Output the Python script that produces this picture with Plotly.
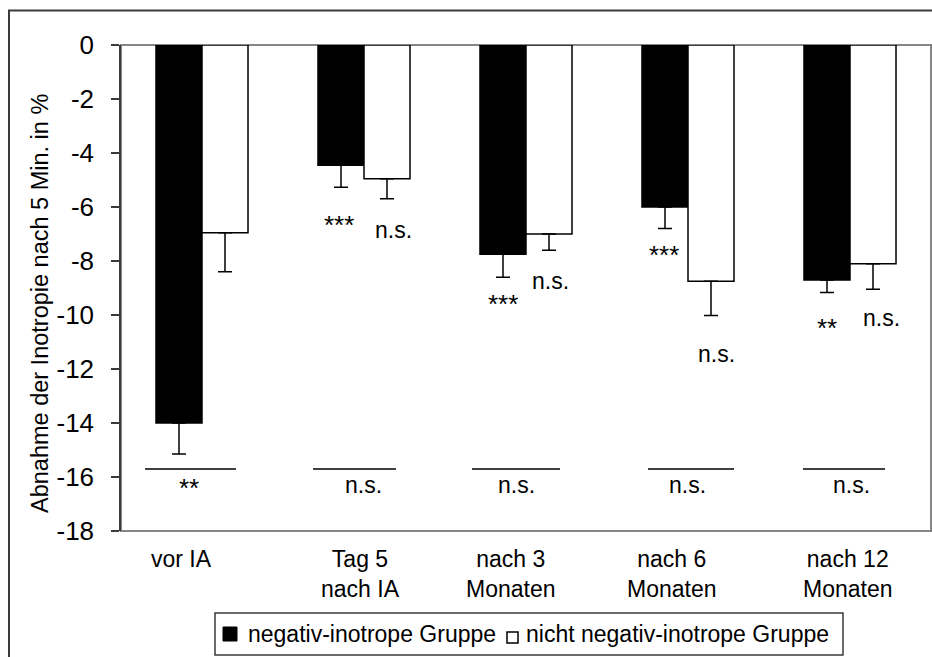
import plotly.graph_objects as go

# Zeitpunkte (Kategorien)
categories = ["vor IA", "Tag 5<br>nach IA", "nach 3<br>Monaten", "nach 6<br>Monaten", "nach 12<br>Monaten"]

# Mittelwerte und Standardfehler der Abnahme (%)
neg_mean = [-14.0, -4.45, -7.75, -6.0, -8.7]
neg_err = [1.15, 0.82, 0.85, 0.8, 0.47]
non_mean = [-6.95, -4.95, -7.0, -8.75, -8.1]
non_err = [1.45, 0.74, 0.6, 1.27, 0.95]

# Signifikanzangaben
sig_neg = ["", "***", "***", "***", "**"]
sig_non = ["", "n.s.", "n.s.", "n.s.", "n.s."]
sig_between = ["**", "n.s.", "n.s.", "n.s.", "n.s."]

y_ticks = [0, -2, -4, -6, -8, -10, -12, -14, -16, -18]

FONT = "Arial, Liberation Sans, sans-serif"
W, H = 932, 657
ML, MR, MT, MB = 121, 1, 45, 126
PW, PH = W - ML - MR, H - MT - MB


def px(xp):
    """Pixel-x -> paper-x"""
    return (xp - ML) / PW


def py(yp):
    """Pixel-y -> paper-y"""
    return (H - MB - yp) / PH


x = list(range(len(categories)))

fig = go.Figure()
fig.add_trace(go.Bar(
    x=x, y=neg_mean, name="negativ-inotrope Gruppe",
    marker=dict(color="black", line=dict(color="black", width=1.5)),
    error_y=dict(type="data", symmetric=False, array=[0] * len(x), arrayminus=neg_err,
                 color="black", thickness=1.5, width=7),
))
fig.add_trace(go.Bar(
    x=x, y=non_mean, name="nicht negativ-inotrope Gruppe",
    marker=dict(color="white", line=dict(color="black", width=1.5)),
    error_y=dict(type="data", symmetric=False, array=[0] * len(x), arrayminus=non_err,
                 color="black", thickness=1.5, width=7),
))

annotations = []
shapes = []

# Achsentitel
annotations.append(dict(
    text="Abnahme der Inotropie nach 5 Min. in %", xref="paper", yref="paper",
    x=0, y=py(304), xshift=-81, textangle=-90, showarrow=False,
    xanchor="center", yanchor="middle", font=dict(size=23.5, color="black", family=FONT),
))

# Kategorienbeschriftungen unter der Zeichenfläche
label_shift = [-21, -4, -15, -16, -2]
for i, lab in enumerate(categories):
    annotations.append(dict(
        text=lab, x=i, xref="x", y=0, yref="paper", yanchor="top", xanchor="center",
        xshift=label_shift[i], yshift=-13, showarrow=False, align="center",
        font=dict(size=23, color="black", family=FONT),
    ))

# Signifikanz innerhalb der Gruppen
star_pos = [None, (-25, -6.56), (-23, -9.48), (-24, -7.67), (-23, -10.37)]
ns_pos = [None, (29, -6.85), (24, -8.74), (28, -11.44), (31, -10.11)]
for i in range(len(categories)):
    if sig_neg[i]:
        dx, yy = star_pos[i]
        annotations.append(dict(
            text=sig_neg[i], x=i, y=yy, xref="x", yref="y", xshift=dx, yshift=-3,
            showarrow=False, xanchor="center", yanchor="middle",
            font=dict(size=26, color="black", family=FONT)))
    if sig_non[i]:
        dx, yy = ns_pos[i]
        annotations.append(dict(
            text=sig_non[i], x=i, y=yy, xref="x", yref="y", xshift=dx,
            showarrow=False, xanchor="center", yanchor="middle",
            font=dict(size=23, color="black", family=FONT)))

# Vergleich zwischen den Gruppen: Linie mit Angabe darunter
line_ext = [(-57, 34), (-51, 32), (-54, 34), (-40, 46), (-47, 35)]
bottom_dx = [-13, -1, -10, -1, 1]
for i in range(len(categories)):
    l, r = line_ext[i]
    shapes.append(dict(type="line", xref="x", yref="y", x0=i + l / 162, x1=i + r / 162,
                       y0=-15.7, y1=-15.7, line=dict(color="black", width=1.5)))
    star = "*" in sig_between[i]
    annotations.append(dict(
        text=sig_between[i], x=i, y=-16.3, xref="x", yref="y", xshift=bottom_dx[i],
        yshift=-3 if star else 0, showarrow=False, xanchor="center", yanchor="middle",
        font=dict(size=26 if star else 23, color="black", family=FONT)))

# Rahmen der Zeichenfläche
shapes.append(dict(type="rect", xref="paper", yref="paper", x0=0, x1=1, y0=0, y1=1,
                   line=dict(color="#858585", width=2), layer="below"))
# äußerer Diagrammrahmen
shapes.append(dict(type="rect", xref="paper", yref="paper", x0=px(9), x1=1.5,
                   y0=-2, y1=py(10.5), line=dict(color="#3a3a3a", width=2)))

# Legende mit Rahmen, Symbolen und Beschriftung
shapes.append(dict(type="rect", xref="paper", yref="paper", x0=px(215), x1=px(843),
                   y0=py(655), y1=py(613), line=dict(color="#3a3a3a", width=1.5),
                   fillcolor="white"))
shapes.append(dict(type="rect", xref="paper", yref="paper", x0=px(223), x1=px(237),
                   y0=py(641), y1=py(627), line=dict(color="black", width=1),
                   fillcolor="black"))
shapes.append(dict(type="rect", xref="paper", yref="paper", x0=px(507), x1=px(518),
                   y0=py(643), y1=py(632), line=dict(color="black", width=1.5),
                   fillcolor="white"))
for tr, xl in zip(fig.data, [246, 524]):
    annotations.append(dict(
        text=tr.name, xref="paper", yref="paper", x=px(xl), y=py(634),
        xanchor="left", yanchor="middle", showarrow=False,
        font=dict(size=23, color="black", family=FONT)))

fig.update_layout(
    width=W, height=H,
    margin=dict(l=ML, r=MR, t=MT, b=MB),
    paper_bgcolor="white", plot_bgcolor="white",
    barmode="group", bargap=0.432, bargroupgap=0,
    font=dict(family=FONT, size=23, color="black"),
    showlegend=False,
    annotations=annotations, shapes=shapes,
)
fig.update_xaxes(range=[-0.5, 4.5], showticklabels=False, showgrid=False, zeroline=False,
                 showline=False, ticks="")
fig.update_yaxes(range=[-18, 0], tickvals=y_ticks, ticktext=[str(v) for v in y_ticks],
                 showgrid=False, zeroline=False, showline=True, linecolor="#3a3a3a",
                 linewidth=1.5, ticks="outside", ticklen=8, tickwidth=1.5,
                 tickcolor="#3a3a3a", ticklabelstandoff=12,
                 tickfont=dict(size=26, family=FONT, color="black"))

fig.write_html("out.html")
